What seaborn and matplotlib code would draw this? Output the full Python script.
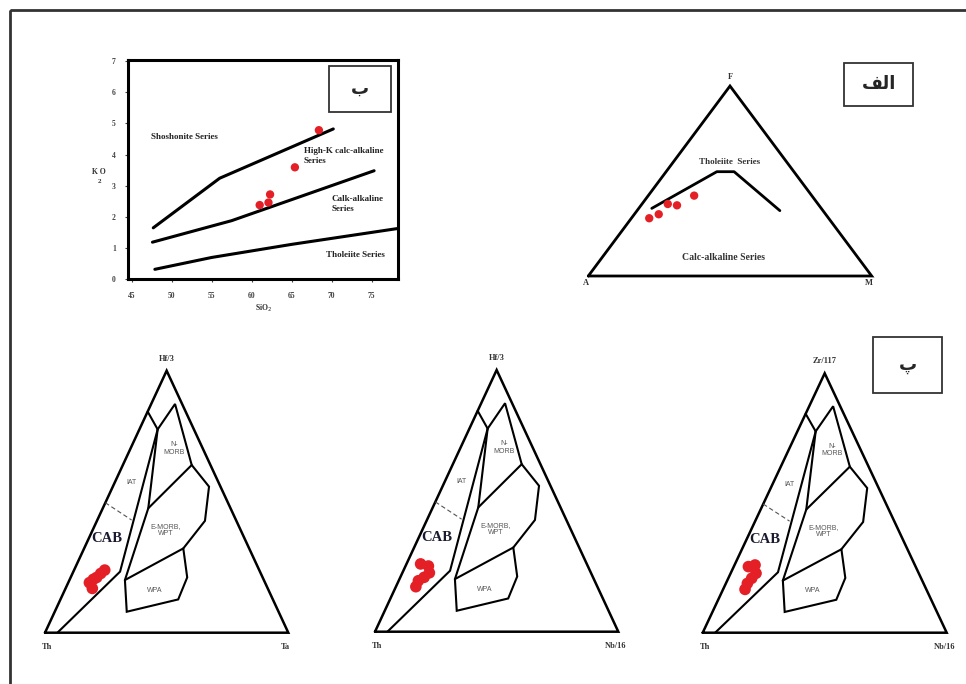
import numpy as np
import pandas as pd
import matplotlib
matplotlib.use("Agg")
import matplotlib.pyplot as plt
from matplotlib.patches import Rectangle
import seaborn as sns

# --- K2O vs SiO2 (ب) ---
sio2 = [61.0, 62.1, 62.3, 65.4, 68.4]
k2o = [2.38, 2.46, 2.72, 3.59, 4.78]
shosh_x = [47.7, 56.0, 70.2]
shosh_y = [1.65, 3.24, 4.82]
calk_x = [47.6, 57.5, 75.3]
calk_y = [1.19, 1.88, 3.48]
thol_x = [47.9, 55.0, 65.0, 78.3]
thol_y = [0.32, 0.70, 1.12, 1.63]

# --- AFM (الف), % ---
afm_A = [63.3, 58.9, 53.0, 50.1, 41.5]
afm_F = [30.4, 32.5, 37.9, 37.2, 42.3]
afm_M = [6.3, 8.6, 9.1, 12.7, 16.2]
afm_line_A = [59.8, 27.2, 21.1, 15.2]
afm_line_F = [35.6, 54.9, 54.9, 34.4]
afm_line_M = [4.6, 17.9, 24.0, 50.4]

# --- Wood (1980) fields, (Th, right, top) % ---
arc_edge = [(15.6, 0.0, 84.4), (14.9, 7.5, 77.6), (57.5, 19.2, 23.3), (94.9, 5.1, 0.0)]
morb_top = [(14.9, 7.5, 77.6), (2.9, 9.8, 87.3), (7.7, 28.3, 64.0)]
plate_edge = [(14.9, 7.5, 77.6), (33.8, 18.7, 47.5), (57.1, 22.8, 20.1)]
wpa_field = [(57.1, 22.8, 20.1), (62.4, 29.6, 8.0), (38.9, 48.4, 12.7),
             (31.0, 47.9, 21.1), (27.1, 40.8, 32.2), (57.1, 22.8, 20.1)]
emorb_edge = [(27.1, 40.8, 32.2), (12.9, 44.4, 42.7), (4.7, 39.5, 55.7),
              (7.7, 28.3, 64.0), (33.8, 18.7, 47.5)]
iat_cab = [(50.4, 0.0, 49.6), (42.9, 14.1, 43.0)]

# samples (پ)
th_1 = [63.5, 65.8, 68.2, 70.0, 72.2, 72.1]
ta_1 = [12.6, 11.6, 10.7, 9.7, 8.7, 11.0]
hf_1 = [23.9, 22.6, 21.1, 20.4, 19.1, 16.9]
th_2 = [68.3, 65.5, 66.4, 69.5, 72.5, 74.6]
nb_2 = [5.8, 9.4, 11.1, 9.8, 8.1, 8.2]
hf_2 = [25.9, 25.1, 22.5, 20.8, 19.5, 17.2]
th_3 = [68.6, 65.5, 66.7, 69.5, 72.2, 74.3]
nb_3 = [6.0, 8.4, 10.4, 9.6, 8.8, 9.0]
zr_3 = [25.5, 26.1, 22.9, 21.0, 19.0, 16.7]

RED = "#e41f26"
W, H = 966, 684

sns.set_theme(style="white")
plt.rcParams['font.family'] = ['Liberation Serif', 'DejaVu Sans']


def tern_xy(left, right, top):
    left, right, top = (np.asarray(v, float) for v in (left, right, top))
    s = left + right + top
    return (right + top / 2) / s, top / s


def px_axes(fig, l, t, r, b):
    ax = fig.add_axes([l / W, 1 - b / H, (r - l) / W, (b - t) / H])
    ax.patch.set_alpha(0)
    return ax


def draw_triangle(ax, lw):
    ax.plot([0, 1, 0.5, 0], [0, 0, 1, 0], color='black', lw=lw, solid_joinstyle='miter', clip_on=False)
    ax.set_xlim(0, 1)
    ax.set_ylim(0, 1)
    ax.axis('off')


fig = plt.figure(figsize=(W / 100, H / 100), dpi=100)

# background frame and letter boxes
bg = fig.add_axes([0, 0, 1, 1], zorder=-1)
bg.set_xlim(0, W)
bg.set_ylim(H, 0)
bg.axis('off')
bg.add_patch(Rectangle((10, 10), 990, 700, fill=False, ec='#333333', lw=2))
for (l, t, r, b), txt in [((328.7, 65.7, 391, 111.7), 'ب'),
                          ((844.3, 62.7, 913.3, 106), '\uFED2\uFEDF\uFE8D'),
                          ((873.3, 336.7, 941.7, 393.3), 'پ')]:
    bg.add_patch(Rectangle((l, t), r - l, b - t, fill=False, ec='#333333', lw=1.3))
    bg.text((l + r) / 2, (t + b) / 2, txt, ha='center', va='center', fontsize=13,
            fontweight='bold', family=['DejaVu Sans'])

# --- K2O vs SiO2 ---
ax = px_axes(fig, 128.3, 60, 397.7, 279.3)
for xs, ys in [(shosh_x, shosh_y), (calk_x, calk_y), (thol_x, thol_y)]:
    sns.lineplot(x=xs, y=ys, ax=ax, color='black', lw=2.2, sort=False, clip_on=False)
sns.scatterplot(x=sio2, y=k2o, ax=ax, color=RED, s=36, edgecolor='none', zorder=5, legend=False)
ax.set_xlim(44.58, 78.25)
ax.set_ylim(0, 7.03)
ax.set_xticks(range(45, 80, 5))
ax.set_yticks(range(0, 8))
for sp in ax.spines.values():
    sp.set_visible(True)
    sp.set_linewidth(2.2)
    sp.set_color('black')
ax.tick_params(axis='both', labelsize=5.5, colors='#444444', length=2, width=0.8,
               direction='out', left=True, bottom=True)
ax.tick_params(axis='x', pad=7)
ax.tick_params(axis='y', pad=7)
for lab in ax.get_xticklabels() + ax.get_yticklabels():
    lab.set_fontweight('bold')
txt_kw = dict(fontsize=6.5, fontweight='bold', color='#222222', va='center')
ax.text(47.4, 4.55, 'Shoshonite Series', **txt_kw)
ax.text(66.5, 3.95, 'High-K calc-alkaline\nSeries', linespacing=1.3, **txt_kw)
ax.text(70.0, 2.41, 'Calk-alkaline\nSeries', linespacing=1.3, **txt_kw)
ax.text(69.3, 0.78, 'Tholeiite Series', **txt_kw)
bg.text(99, 172.5, 'K O', ha='center', va='center', fontsize=5.5, fontweight='bold', color='#333333')
bg.text(99.5, 181.5, '2', ha='center', va='center', fontsize=5, fontweight='bold', color='#333333')
bg.text(264, 308, 'SiO$_2$', ha='center', va='center', fontsize=5.5, fontweight='bold', color='#333333')

# --- AFM ---
ax = px_axes(fig, 588.3, 86, 871.7, 276)
draw_triangle(ax, 2.0)
lx, ly = tern_xy(afm_line_A, afm_line_M, afm_line_F)
sns.lineplot(x=lx, y=ly, ax=ax, color='black', lw=2.0, sort=False)
sx, sy = tern_xy(afm_A, afm_M, afm_F)
sns.scatterplot(x=sx, y=sy, ax=ax, color=RED, s=36, edgecolor='none', zorder=5, legend=False)
vkw = dict(fontsize=6, fontweight='bold', color='#333333', ha='center', va='center')
ax.text(0.5, 1.047, 'F', **vkw)
ax.text(-0.01, -0.038, 'A', **vkw)
ax.text(0.99, -0.038, 'M', **vkw)
ax.text(0.5, 0.6, 'Tholeiite  Series', fontsize=6.5, fontweight='bold', color='#333333', ha='center', va='center')
ax.text(0.476, 0.098, 'Calc-alkaline Series', fontsize=7, fontweight='bold', color='#333333', ha='center', va='center')

# --- Wood ternaries ---
panels = [
    ((45, 370.7, 288.3, 632.7), (th_1, ta_1, hf_1), ('Th', 'Ta', 'Hf/3')),
    ((375, 370, 618.3, 631.7), (th_2, nb_2, hf_2), ('Th', 'Nb/16', 'Hf/3')),
    ((702.7, 373.3, 946.7, 632.7), (th_3, nb_3, zr_3), ('Th', 'Nb/16', 'Zr/117')),
]
fkw = dict(fontsize=5, color='#555555', ha='center', va='center', family=['Liberation Sans'],
           linespacing=1.15)
for box, (a, b, c), (nl, nr, nt) in panels:
    ax = px_axes(fig, *box)
    draw_triangle(ax, 1.8)
    for seg in (arc_edge, morb_top, plate_edge, wpa_field, emorb_edge):
        arr = np.array(seg)
        x, y = tern_xy(arr[:, 0], arr[:, 1], arr[:, 2])
        ax.plot(x, y, color='black', lw=1.5, solid_joinstyle='miter')
    arr = np.array(iat_cab)
    x, y = tern_xy(arr[:, 0], arr[:, 1], arr[:, 2])
    ax.plot(x, y, color='#555555', lw=0.8, ls=(0, (4, 2.5)))
    px, py = tern_xy(a, b, c)
    sns.scatterplot(x=px, y=py, ax=ax, color=RED, s=70, edgecolor='none', zorder=5, legend=False)
    for (l_, r_, t_), lab in [((11.8, 17.8, 70.4), 'N-\nMORB'), ((35.8, 7.0, 57.3), 'IAT'),
                              ((30.7, 30.1, 39.2), 'E-MORB,\nWPT'), ((46.7, 37.1, 16.3), 'WPA')]:
        x, y = tern_xy(l_, r_, t_)
        ax.text(x, y, lab, **fkw)
    x, y = tern_xy(56.7, 7.3, 36.0)
    ax.text(x, y, 'CAB', fontsize=10.5, fontweight='bold', color='#1a1a2e', ha='center', va='center')
    vkw = dict(fontsize=6, fontweight='bold', color='#333333', ha='center', va='center')
    ax.text(0.5, 1.046, nt, **vkw)
    ax.text(0.01, -0.054, nl, **vkw)
    ax.text(0.99, -0.054, nr, **vkw)

fig.savefig('out.png', dpi=100)
